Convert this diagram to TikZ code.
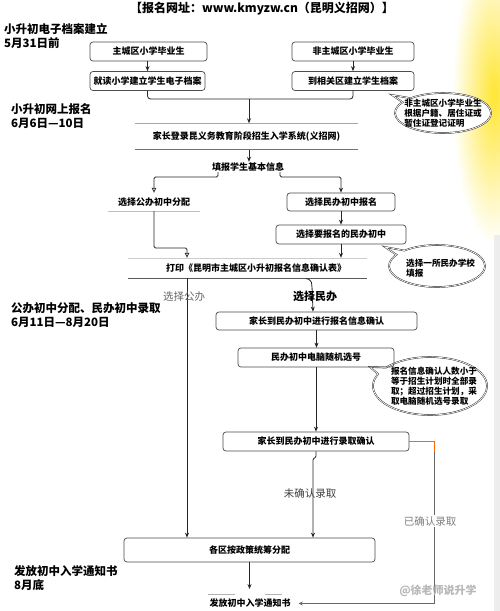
\documentclass[tikz,border=0pt]{standalone}
\usepackage{fontspec}
\setmainfont{Noto Sans CJK SC}
\usetikzlibrary{arrows.meta,shapes.callouts,calc}
\tikzset{
  box/.style={draw=black!70, line width=0.7pt, rounded corners=3pt, inner sep=0pt,
    font=\bfseries\fontsize{9}{10}\selectfont},
  plain/.style={inner sep=0pt, font=\bfseries\fontsize{9}{10}\selectfont},
  arr/.style={-{Stealth[length=5pt,width=4pt]}, line width=0.8pt, draw=black!85},
  oarr/.style={-{Triangle[open,length=5pt,width=4.5pt]}, line width=0.8pt, draw=black!85},
  head/.style={anchor=west, align=left, inner sep=0pt, font=\bfseries\fontsize{11.5}{14}\selectfont},
  bub/.style={ellipse callout, draw=black!85, line width=0.45pt, double=white,
    double distance=0.7pt, fill=white, inner sep=0pt},
  btext/.style={align=left, inner sep=0pt, font=\bfseries\fontsize{8.6}{10}\selectfont},
  lbl/.style={inner sep=0pt, font=\fontsize{10.5}{12}\selectfont},
  faint/.style={line width=1pt, draw=black!25},
}
\begin{document}
\begin{tikzpicture}[x=1pt,y=-1pt]
\useasboundingbox (0,0) rectangle (500,611);
\clip (0,0) rectangle (500,611);
\fill[white] (0,0) rectangle (500,611);
\shade[inner color=yellow!75!orange!80, outer color=white] (494,95) ellipse [x radius=42, y radius=150];
\fill[black!7] (494,235) rectangle (500,611);

% title and headings
\node[inner sep=0pt, font=\bfseries\fontsize{12}{14}\selectfont] (title) at (262,9) {【报名网址：www.kmyzw.cn（昆明义招网）】};
\node[head] (h1) at (4,36) {小升初电子档案建立\\5月31日前};
\node[head] (h2) at (11,116) {小升初网上报名\\6月6日—10日};
\node[head] (h3) at (11,315) {公办初中分配、民办初中录取\\6月11日—8月20日};
\node[head] (h4) at (14,578) {发放初中入学通知书\\8月底};

% step 1
\node[box, minimum width=117, minimum height=19] (b1) at (148.5,51.5) {主城区小学毕业生};
\node[box, minimum width=115, minimum height=19] (b2) at (147.5,81) {就读小学建立学生电子档案};
\node[box, minimum width=122, minimum height=19] (b3) at (353,51.5) {非主城区小学毕业生};
\node[box, minimum width=122, minimum height=19] (b4) at (353,81) {到相关区建立学生档案};
\draw[arr] (b1.south -| b2.south) -- (b2.north);
\draw[arr] (b3.south) -- (b4.north);
\coordinate (br) at (249,99);
\draw[line width=0.8pt, black!85, rounded corners=3pt] (b2.south) |- (br) -| (b4.south);

% step 2
\node[plain, minimum width=223, minimum height=26] (b5) at (246.5,136.5) {家长登录昆义务教育阶段招生入学系统(义招网)};
\draw[line width=1pt, black!35] (b5.north west) -- (b5.north east);
\draw[line width=1pt, black!55] (b5.south west) -- (b5.south east);
\draw[arr] (br) -- (br |- b5.north);
\node[plain, minimum height=10] (t1) at (248,167) {填报学生基本信息};
\draw[arr] (br |- b5.south) -- (br |- t1.north);

\node[plain, minimum width=100, minimum height=18] (pub) at (154,202) {选择公办初中分配};
\draw[faint] (108,211) -- (200,211);
\node[box, minimum width=108, minimum height=18] (b6) at (341,202) {选择民办初中报名};
\node[box, minimum width=130, minimum height=19] (b7) at (341,234.5) {选择要报名的民办初中};
\coordinate (sl) at (218,177);
\coordinate (sr) at (280,177);
\draw[oarr, rounded corners=1.5pt] (t1.south -| sl) |- (pub.north |- sl) -- (pub.north);
\draw[arr, rounded corners=1.5pt] (t1.south -| sr) |- (b6.north |- sr) -- (b6.north);
\draw[arr] (b6.south) -- (b7.north);

\node[plain, minimum height=20] (pr) at (256,268) {打印《昆明市主城区小升初报名信息确认表》};
\draw[line width=1pt, black!20] (128,258) -- (367,258);
\draw[line width=1pt, black!65] (128,278) -- (367,278);
\draw[arr] (b7.south) -- (b7.south |- pr.north);
\coordinate (pl) at (187,248);
\draw[oarr, rounded corners=1.5pt] (pub.south) |- (pl) -- (pl |- pr.north);

% bubbles
\node[bub, minimum width=96, minimum height=40, callout absolute pointer={(392,95)}] (k1) at (443,113) {};
\node[btext] (k1t) at (k1.center) {非主城区小学毕业生\\根据户籍、居住证或\\暂住证登记证明};
\node[bub, minimum width=96, minimum height=42, callout absolute pointer={(385,247)}] (k2) at (437,266) {};
\node[btext, anchor=west] (k2t) at (406,268.5) {选择一所民办学校\\填报};
\node[bub, minimum width=114, minimum height=58, callout absolute pointer={(370,367)}] (k3) at (430,386) {};
\node[btext] (k3t) at (434,386) {报名信息确认人数小于\\等于招生计划时全部录\\取；超过招生计划，采\\取电脑随机选号录取};

% step 3
\node[box, minimum width=201, minimum height=18] (c1) at (316.5,321) {家长到民办初中进行报名信息确认};
\node[box, minimum width=156, minimum height=19] (c2) at (316,357.5) {民办初中电脑随机选号};
\node[box, minimum width=186, minimum height=19] (c3) at (316,441.5) {家长到民办初中进行录取确认};
\node[box, minimum width=251, minimum height=24] (qf) at (249.5,550) {各区按政策统筹分配};
\coordinate (x313) at (313,0);
\coordinate (pl2) at (187,278);
\draw[arr, rounded corners=2pt] (306,278.5) -- (311,280) -- (312,286) -- (c1.north -| x313);
\draw[arr] (pl2) -- (pl2 |- qf.north);
\node[lbl, text=black!60] (lg) at (184,297) {选择公办};
\node[inner sep=0pt, font=\bfseries\fontsize{11}{12}\selectfont] (lm) at (315,296) {选择民办};
\draw[arr] (c1.south) -- (c1.south |- c2.north);
\draw[arr] (c2.south) -- (c2.south |- c3.north);
\draw[arr, rounded corners=1pt] (c3.south) -- (316,457) -- (313,459) -- (x313 |- qf.north);
\node[lbl, text=black!75] (lw) at (310,493) {未确认录取};

% bottom
\node[plain, minimum height=12, inner xsep=8pt] (nt) at (250,603.5) {发放初中入学通知书};
\draw[line width=1pt, black!30] (208,594) -- (235,594);
\draw[line width=1pt, black!30] (265,594) -- (282,594);
\coordinate (na) at (249.5,589);
\draw[arr] (qf.south) -- (na);
\coordinate (cr) at (434,441.5);
\draw[line width=0.8pt, draw=orange!80!red] (c3.east) -- (cr) -- (434,452);
\draw[arr, draw=black!60, -{Stealth[length=4pt,width=4pt,fill=yellow!70!orange]}] (434,452) |- (nt.east);
\node[lbl, text=black!50, fill=white, inner sep=1pt] (ly) at (430,521) {已确认录取};
\node[inner sep=0pt, text=black!28, font=\bfseries\fontsize{11}{12}\selectfont] (wm) at (438,591) {@徐老师说升学};
\end{tikzpicture}
\end{document}
